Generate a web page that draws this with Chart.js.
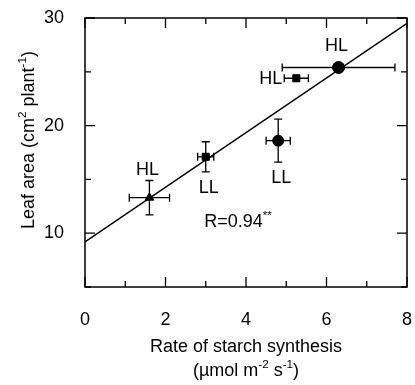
<!DOCTYPE html>
<html>
<head>
<meta charset="utf-8">
<script src="https://cdn.jsdelivr.net/npm/chart.js@4"></script>
<style>
  html, body { margin: 0; padding: 0; background: #fff; }
  #wrap { width: 415px; height: 385px; }
</style>
</head>
<body>
<div id="wrap"><canvas id="chart" width="415" height="385"></canvas></div>
<script>
/* Leaf area vs rate of starch synthesis */
const starchRate = [1.6, 3.0, 4.8, 5.25, 6.3];
const leafArea   = [13.3, 17.1, 18.6, 24.4, 25.4];
const starchErr  = [0.5, 0.2, 0.3, 0.3, 1.4];
const leafErr    = [1.6, 1.4, 2.0, 0, 0.3];
const markers    = ['triangle', 'rect', 'circle', 'rect', 'circle'];
const pointTags  = ['HL', 'LL', 'LL', 'HL', 'HL'];
const tagSide    = ['above', 'below', 'below', 'left', 'above'];
const fitX = [0, 8];
const fitY = [9.2, 29.5];
const xTicks = [0, 2, 4, 6, 8];
const yTicks = [10, 20, 30];
const corrText = 'R=0.94';
const corrPos = [3.8, 11.0];

const FONT = '"Liberation Sans", Arial, sans-serif';
const FS = 18;

// text with raised parts: segs = [[text, isSup], ...]
function supText(ctx, segs, x, y, size, align) {
    const widths = segs.map(([t, s]) => {
        ctx.font = (s ? size * 0.65 : size) + 'px ' + FONT;
        return ctx.measureText(t).width;
    });
    const total = widths.reduce((a, b) => a + b, 0);
    let cx = align === 'center' ? x - total / 2 : x;
    ctx.textAlign = 'left';
    ctx.textBaseline = 'middle';
    segs.forEach(([t, s], i) => {
        ctx.font = (s ? size * 0.65 : size) + 'px ' + FONT;
        ctx.fillText(t, cx, s ? y - size * 0.36 : y);
        cx += widths[i];
    });
}

const frame = {
    id: 'frame',
    afterDatasetsDraw(chart) {
        const { ctx, chartArea: a, scales: { x, y } } = chart;
        ctx.save();
        ctx.strokeStyle = '#000';
        ctx.fillStyle = '#000';

        // error bars
        ctx.lineWidth = 1.3;
        starchRate.forEach((v, i) => {
            const px = x.getPixelForValue(v), py = y.getPixelForValue(leafArea[i]);
            const cap = 4;
            if (starchErr[i]) {
                const x0 = x.getPixelForValue(v - starchErr[i]), x1 = x.getPixelForValue(v + starchErr[i]);
                ctx.beginPath();
                ctx.moveTo(x0, py); ctx.lineTo(x1, py);
                ctx.moveTo(x0, py - cap); ctx.lineTo(x0, py + cap);
                ctx.moveTo(x1, py - cap); ctx.lineTo(x1, py + cap);
                ctx.stroke();
            }
            if (leafErr[i]) {
                const y0 = y.getPixelForValue(leafArea[i] - leafErr[i]), y1 = y.getPixelForValue(leafArea[i] + leafErr[i]);
                ctx.beginPath();
                ctx.moveTo(px, y0); ctx.lineTo(px, y1);
                ctx.moveTo(px - cap, y0); ctx.lineTo(px + cap, y0);
                ctx.moveTo(px - cap, y1); ctx.lineTo(px + cap, y1);
                ctx.stroke();
            }
        });

        // box
        ctx.lineWidth = 1.5;
        ctx.strokeRect(a.left, a.top, a.right - a.left, a.bottom - a.top);

        // inward ticks on all sides
        ctx.lineWidth = 1.3;
        ctx.beginPath();
        for (let v = 0; v <= 8; v += 1) {
            const px = x.getPixelForValue(v), len = v % 2 === 0 ? 10 : 6;
            ctx.moveTo(px, a.bottom); ctx.lineTo(px, a.bottom - len);
            ctx.moveTo(px, a.top); ctx.lineTo(px, a.top + len);
        }
        for (let v = 5; v <= 30; v += 5) {
            const py = y.getPixelForValue(v), len = v % 10 === 0 ? 10 : 6;
            ctx.moveTo(a.left, py); ctx.lineTo(a.left + len, py);
            ctx.moveTo(a.right, py); ctx.lineTo(a.right - len, py);
        }
        ctx.stroke();

        // point tags
        ctx.font = FS + 'px ' + FONT;
        ctx.textBaseline = 'middle';
        pointTags.forEach((t, i) => {
            const px = x.getPixelForValue(starchRate[i]), py = y.getPixelForValue(leafArea[i]);
            ctx.textAlign = 'center';
            if (tagSide[i] === 'above') {
                ctx.fillText(t, px - 2, py - (leafErr[i] > 1 ? 28 : 21));
            } else if (tagSide[i] === 'below') {
                ctx.fillText(t, px + 3, py + (leafErr[i] > 1.5 ? 37 : 31));
            } else {
                ctx.textAlign = 'right';
                ctx.fillText(t, x.getPixelForValue(starchRate[i] - starchErr[i]) - 2, py + 1);
            }
        });

        // correlation
        supText(ctx, [[corrText, false], ['**', true]],
            x.getPixelForValue(corrPos[0]), y.getPixelForValue(corrPos[1]), FS, 'center');

        // axis titles
        supText(ctx, [['Rate of starch synthesis', false]], (a.left + a.right) / 2, 347, FS, 'center');
        supText(ctx, [['(µmol m', false], ['-2', true], [' s', false], ['-1', true], [')', false]],
            (a.left + a.right) / 2, 371, FS, 'center');
        ctx.translate(29, 140);
        ctx.rotate(-Math.PI / 2);
        supText(ctx, [['Leaf area (cm', false], ['2', true], [' plant', false], ['-1', true], [')', false]],
            0, 0, FS, 'center');
        ctx.restore();
    }
};

new Chart(document.getElementById('chart'), {
    type: 'scatter',
    data: {
        datasets: [
            {
                type: 'line',
                data: fitX.map((v, i) => ({ x: v, y: fitY[i] })),
                borderColor: '#000',
                borderWidth: 1.5,
                pointRadius: 0,
                fill: false
            },
            {
                data: starchRate.map((v, i) => ({ x: v, y: leafArea[i] })),
                pointStyle: markers,
                pointRadius: [5, 5, 5.5, 5, 6],
                backgroundColor: '#000',
                borderColor: '#000',
                borderWidth: 1
            }
        ]
    },
    plugins: [frame],
    options: {
        responsive: false,
        animation: false,
        events: [],
        layout: { padding: { top: 18, right: 8, left: 0, bottom: 0 } },
        plugins: { legend: { display: false }, tooltip: { enabled: false } },
        scales: {
            x: {
                type: 'linear', min: 0, max: 8,
                afterFit: s => { s.height = 98; s.paddingLeft = 0; s.paddingRight = 0; },
                afterBuildTicks: s => { s.ticks = xTicks.map(v => ({ value: v })); },
                grid: { display: false },
                border: { display: false },
                ticks: { color: '#000', font: { family: FONT, size: FS }, padding: 14, maxRotation: 0 }
            },
            y: {
                type: 'linear', min: 5, max: 30,
                afterFit: s => { s.width = 85; s.paddingTop = 0; s.paddingBottom = 0; },
                afterBuildTicks: s => { s.ticks = yTicks.map(v => ({ value: v })); },
                grid: { display: false },
                border: { display: false },
                ticks: { color: '#000', font: { family: FONT, size: FS }, padding: 13 }
            }
        }
    }
});
</script>
</body>
</html>
